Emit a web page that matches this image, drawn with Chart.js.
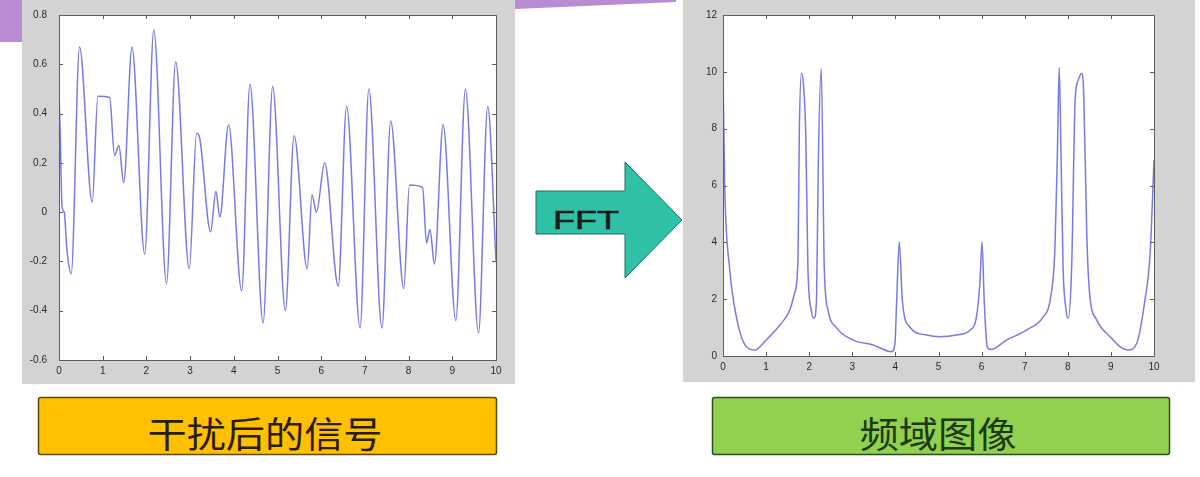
<!DOCTYPE html>
<html>
<head>
<meta charset="utf-8">
<script src="https://cdn.jsdelivr.net/npm/chart.js@4.4.1/dist/chart.umd.min.js"></script>
<style>
  html, body { margin: 0; padding: 0; background: #fff; }
  #stage { position: relative; width: 1200px; height: 477px; overflow: hidden; }
  #deco { position: absolute; left: 0; top: 0; }
  canvas { position: absolute; }
  #sig { left: 22px; top: 0; }
  #spec { left: 683px; top: 0; }
</style>
</head>
<body>
<div id="stage">
  <svg id="deco" width="1200" height="477">
    <rect x="0" y="0" width="22" height="42" fill="#b98bd2"/>
    <polygon points="515,0 676,0 676,2 515,9" fill="#b98bd2"/>
    <polygon points="536,191 625,191 625,162 682,220 625,278 625,234 536,234"
             fill="#2fc0a6" stroke="#1d6f62" stroke-width="1"/>
    <text x="586" y="229" text-anchor="middle" font-family="Liberation Sans, Arial" font-size="26"
          fill="#1a1a1a" stroke="#1a1a1a" stroke-width="0.6"
          textLength="66" lengthAdjust="spacingAndGlyphs">FFT</text>
    <rect x="38.5" y="397.5" width="458" height="57" rx="2" fill="#ffc000" stroke="#5c4a10" stroke-width="1.5"/>
    <text x="265" y="448" text-anchor="middle" font-family="Noto Sans CJK SC" font-size="36"
          fill="#2b1d05" textLength="235" lengthAdjust="spacingAndGlyphs">干扰后的信号</text>
    <rect x="712.5" y="397.5" width="457" height="57" rx="2" fill="#92d050" stroke="#2e4d1c" stroke-width="1.5"/>
    <text x="938" y="448" text-anchor="middle" font-family="Noto Sans CJK SC" font-size="36"
          fill="#1d3a10" textLength="157" lengthAdjust="spacingAndGlyphs">频域图像</text>
  </svg>
  <canvas id="sig" width="493" height="384"></canvas>
  <canvas id="spec" width="512" height="382"></canvas>
</div>
<script>
// 干扰后的信号 (time signal)
const sigT = [0, 0.03, 0.07, 0.12, 0.18, 0.28, 0.47, 0.76, 0.89, 1.16, 1.27, 1.37, 1.48, 1.67, 1.96,
  2.17, 2.46, 2.67, 2.98, 3.15, 3.22, 3.47, 3.59, 3.68, 3.88, 4.18, 4.37, 4.67, 4.89, 5.18, 5.38,
  5.68, 5.79, 5.89, 6.08, 6.39, 6.58, 6.89, 7.09, 7.39, 7.59, 7.89, 8.02, 8.32, 8.41, 8.49, 8.59,
  8.79, 9.08, 9.30, 9.60, 9.81, 10.0];
const sigV = [0.50, 0.30, 0.02, 0.0, -0.15, -0.25, 0.67, 0.04, 0.47, 0.465, 0.23, 0.27, 0.12, 0.67, -0.17,
  0.74, -0.29, 0.61, -0.23, 0.32, 0.30, -0.08, 0.085, -0.02, 0.355, -0.32, 0.52, -0.45, 0.51, -0.40, 0.31,
  -0.23, 0.07, 0.0, 0.20, -0.30, 0.43, -0.47, 0.50, -0.47, 0.37, -0.31, 0.11, 0.10, -0.125, -0.07, -0.21,
  0.355, -0.44, 0.50, -0.49, 0.43, -0.20];

// 频域图像 (spectrum magnitude)
const specF = [0, 0.04, 0.15, 0.31, 0.54, 0.74, 1.0, 1.32, 1.55, 1.66, 1.74, 1.77, 1.82, 1.87, 1.92, 1.97,
  2.05, 2.11, 2.17, 2.21, 2.28, 2.35, 2.44, 2.63, 3.02, 3.48, 3.92, 3.99, 4.03, 4.09, 4.16, 4.33, 4.72,
  5.03, 5.42, 5.73, 5.88, 5.96, 6.01, 6.06, 6.13, 6.21, 6.58, 7.04, 7.43, 7.59, 7.70, 7.76, 7.80, 7.84,
  7.89, 7.96, 8.01, 8.09, 8.17, 8.24, 8.32, 8.37, 8.44, 8.50, 8.67, 8.98, 9.21, 9.40, 9.60, 9.79, 9.91, 10];
const specA = [9.95, 5.96, 3.14, 1.38, 0.33, 0.21, 0.56, 1.09, 1.62, 2.2, 3.4, 7.8, 9.95, 9.5, 7.8, 3.1,
  1.6, 1.33, 1.97, 6.7, 10.1, 3.1, 1.6, 1.0, 0.56, 0.39, 0.15, 0.45, 1.97, 4.02, 1.97, 1.03, 0.74,
  0.68, 0.74, 0.91, 1.38, 2.56, 4.02, 1.97, 0.33, 0.23, 0.56, 0.91, 1.38, 1.97, 3.73, 7.25, 10.15, 7.37,
  3.14, 1.62, 1.33, 3.14, 9.0, 9.7, 9.95, 9.2, 4.3, 2.3, 1.27, 0.68, 0.33, 0.21, 0.45, 1.97, 3.6, 6.9];

const xTicks = [0, 1, 2, 3, 4, 5, 6, 7, 8, 9, 10];

const LINE_COLOR = '#7a7ae4';
const FIG_GRAY = '#d3d3d3';

// matlab style: gray figure, white axes, full box with inward ticks
const matlabBox = {
  id: 'matlabBox',
  beforeDraw(chart) {
    const { ctx, chartArea: a } = chart;
    ctx.save();
    ctx.fillStyle = FIG_GRAY;
    ctx.fillRect(0, 0, chart.width, chart.height);
    ctx.fillStyle = '#fff';
    ctx.fillRect(a.left, a.top, a.right - a.left, a.bottom - a.top);
    ctx.restore();
  },
  afterDraw(chart) {
    const { ctx, chartArea: a, scales: { x, y } } = chart;
    ctx.save();
    ctx.strokeStyle = '#5e5e5e';
    ctx.lineWidth = 1;
    ctx.strokeRect(Math.round(a.left) + 0.5, Math.round(a.top) + 0.5,
      Math.round(a.right - a.left), Math.round(a.bottom - a.top));
    ctx.beginPath();
    x.ticks.forEach(t => {
      const px = Math.round(x.getPixelForValue(t.value)) + 0.5;
      ctx.moveTo(px, a.bottom); ctx.lineTo(px, a.bottom - 4);
      ctx.moveTo(px, a.top); ctx.lineTo(px, a.top + 4);
    });
    y.ticks.forEach(t => {
      const py = Math.round(y.getPixelForValue(t.value)) + 0.5;
      ctx.moveTo(a.left, py); ctx.lineTo(a.left + 4, py);
      ctx.moveTo(a.right, py); ctx.lineTo(a.right - 4, py);
    });
    ctx.stroke();
    ctx.restore();
  }
};

function makePlot(id, xs, ys, yMin, yMax, yStep, yWidth, xHeight, topPad, rightPad, labelPad) {
  return new Chart(document.getElementById(id), {
    type: 'line',
    data: {
      datasets: [{
        data: xs.map((t, i) => ({ x: t, y: ys[i] })),
        borderColor: LINE_COLOR,
        borderWidth: 1.5,
        pointRadius: 0,
        cubicInterpolationMode: 'monotone',
        fill: false
      }]
    },
    options: {
      responsive: false,
      animation: false,
      layout: { padding: { top: topPad, right: rightPad, left: 0, bottom: 0 } },
      plugins: { legend: { display: false }, tooltip: { enabled: false } },
      scales: {
        x: {
          type: 'linear', min: 0, max: 10,
          afterBuildTicks: s => { s.ticks = xTicks.map(v => ({ value: v })); },
          afterFit: s => { s.height = xHeight; },
          grid: { display: false, drawTicks: false },
          border: { display: false },
          ticks: { padding: 5, color: '#2a2a2a', font: { family: 'Liberation Sans', size: 10 }, maxRotation: 0 }
        },
        y: {
          min: yMin, max: yMax,
          // fixed width, and don't let the label padding push the plot box down
          afterFit: s => { s.width = yWidth; s.paddingTop = 0; s.paddingBottom = 0; },
          grid: { display: false, drawTicks: false },
          border: { display: false },
          ticks: {
            stepSize: yStep, padding: labelPad, color: '#2a2a2a',
            font: { family: 'Liberation Sans', size: 10 },
            callback: v => String(Math.round(v * 10) / 10)
          }
        }
      }
    },
    plugins: [matlabBox]
  });
}

makePlot('sig', sigT, sigV, -0.6, 0.8, 0.2, 37, 24, 15, 19, 12);
makePlot('spec', specF, specA, 0, 12, 2, 40, 26, 15, 41, 6);
</script>
</body>
</html>
